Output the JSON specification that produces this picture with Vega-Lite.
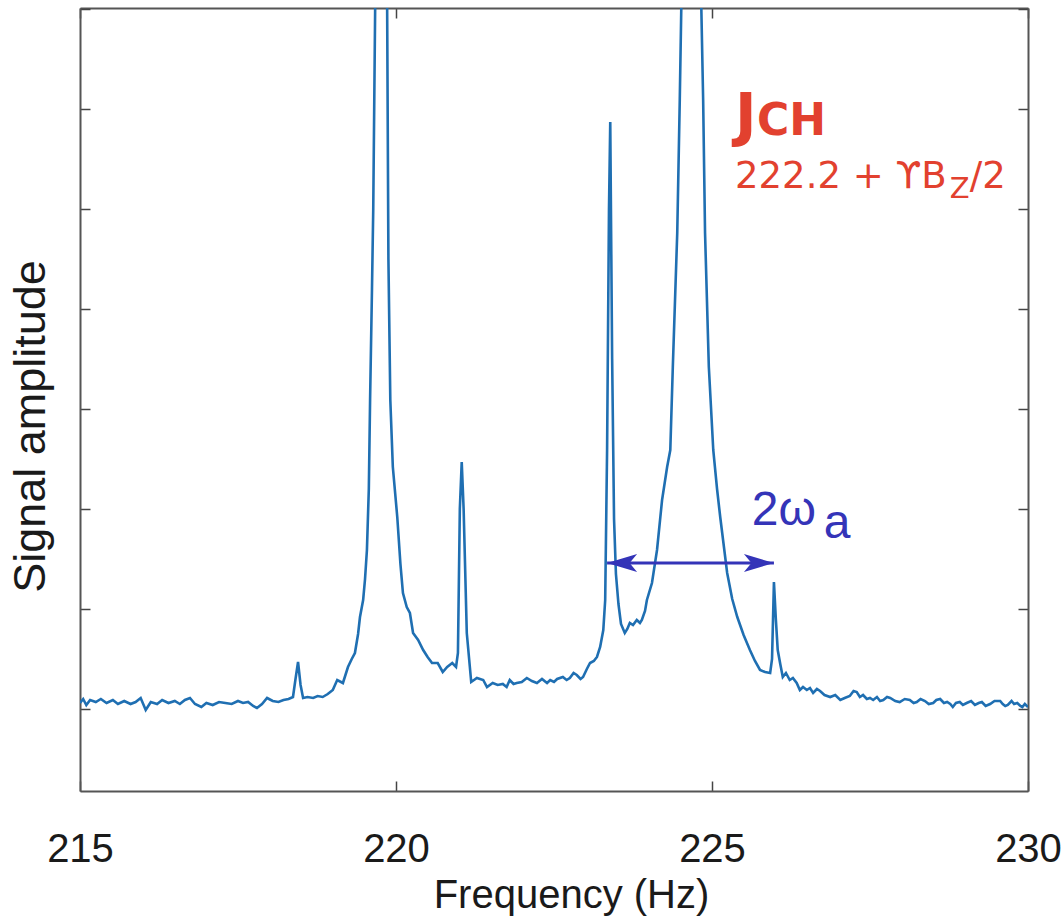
{
  "$schema": "https://vega.github.io/schema/vega-lite/v6.json",
  "width": 948,
  "height": 783,
  "autosize": {"type": "none"},
  "padding": {"left": 80, "top": 8, "right": 33, "bottom": 129},
  "background": "white",
  "view": {"stroke": null},
  "config": {"font": "Liberation Sans"},
  "datasets": {
    "spectrum": [
      {"f":215.00,"a":0.06},{"f":215.05,"a":0.10},{"f":215.10,"a":0.04},{"f":215.16,"a":0.09},{"f":215.25,"a":0.07},{"f":215.33,"a":0.10},{"f":215.42,"a":0.06},{"f":215.52,"a":0.09},{"f":215.60,"a":0.05},{"f":215.70,"a":0.08},{"f":215.80,"a":0.05},{"f":215.88,"a":0.07},{"f":215.96,"a":0.11},{"f":216.04,"a":-0.01},{"f":216.12,"a":0.07},{"f":216.22,"a":0.05},{"f":216.30,"a":0.09},{"f":216.40,"a":0.06},{"f":216.50,"a":0.08},{"f":216.58,"a":0.05},{"f":216.66,"a":0.09},{"f":216.74,"a":0.11},{"f":216.82,"a":0.05},{"f":216.92,"a":0.02},{"f":217.00,"a":0.06},{"f":217.10,"a":0.04},{"f":217.20,"a":0.07},{"f":217.30,"a":0.06},{"f":217.40,"a":0.05},{"f":217.50,"a":0.08},{"f":217.58,"a":0.06},{"f":217.66,"a":0.07},{"f":217.74,"a":0.03},{"f":217.80,"a":0.01},{"f":217.88,"a":0.05},{"f":217.96,"a":0.11},{"f":218.05,"a":0.08},{"f":218.14,"a":0.07},{"f":218.22,"a":0.09},{"f":218.30,"a":0.10},{"f":218.37,"a":0.12},{"f":218.41,"a":0.30},{"f":218.45,"a":0.47},{"f":218.49,"a":0.24},{"f":218.53,"a":0.11},{"f":218.60,"a":0.12},{"f":218.69,"a":0.11},{"f":218.76,"a":0.13},{"f":218.84,"a":0.12},{"f":218.92,"a":0.15},{"f":219.00,"a":0.19},{"f":219.07,"a":0.29},{"f":219.16,"a":0.26},{"f":219.24,"a":0.42},{"f":219.30,"a":0.50},{"f":219.35,"a":0.56},{"f":219.40,"a":0.75},{"f":219.43,"a":0.92},{"f":219.48,"a":1.09},{"f":219.51,"a":1.30},{"f":219.54,"a":1.59},{"f":219.57,"a":2.2},{"f":219.59,"a":3.09},{"f":219.62,"a":4.2},{"f":219.64,"a":5.0},{"f":219.67,"a":7.0},{"f":219.70,"a":9.5},{"f":219.76,"a":12.0},{"f":219.82,"a":9.5},{"f":219.86,"a":7.0},{"f":219.88,"a":4.5},{"f":219.91,"a":3.09},{"f":219.95,"a":2.42},{"f":220.02,"a":1.92},{"f":220.07,"a":1.45},{"f":220.11,"a":1.16},{"f":220.17,"a":1.02},{"f":220.22,"a":0.96},{"f":220.27,"a":0.76},{"f":220.35,"a":0.69},{"f":220.43,"a":0.59},{"f":220.50,"a":0.52},{"f":220.57,"a":0.46},{"f":220.66,"a":0.46},{"f":220.74,"a":0.37},{"f":220.81,"a":0.42},{"f":220.89,"a":0.46},{"f":220.95,"a":0.42},{"f":220.98,"a":0.56},{"f":221.01,"a":2.0},{"f":221.04,"a":2.47},{"f":221.07,"a":2.0},{"f":221.12,"a":0.76},{"f":221.19,"a":0.27},{"f":221.28,"a":0.31},{"f":221.38,"a":0.29},{"f":221.44,"a":0.22},{"f":221.53,"a":0.26},{"f":221.61,"a":0.24},{"f":221.69,"a":0.25},{"f":221.75,"a":0.22},{"f":221.80,"a":0.29},{"f":221.86,"a":0.25},{"f":221.91,"a":0.26},{"f":221.99,"a":0.27},{"f":222.07,"a":0.31},{"f":222.15,"a":0.28},{"f":222.23,"a":0.26},{"f":222.31,"a":0.30},{"f":222.39,"a":0.26},{"f":222.44,"a":0.29},{"f":222.50,"a":0.27},{"f":222.55,"a":0.30},{"f":222.64,"a":0.32},{"f":222.70,"a":0.29},{"f":222.75,"a":0.31},{"f":222.81,"a":0.36},{"f":222.86,"a":0.34},{"f":222.92,"a":0.30},{"f":222.96,"a":0.32},{"f":223.02,"a":0.40},{"f":223.07,"a":0.46},{"f":223.13,"a":0.48},{"f":223.18,"a":0.52},{"f":223.23,"a":0.62},{"f":223.28,"a":0.79},{"f":223.31,"a":1.09},{"f":223.34,"a":2.59},{"f":223.37,"a":5.0},{"f":223.39,"a":5.87},{"f":223.42,"a":3.5},{"f":223.45,"a":1.9},{"f":223.48,"a":1.35},{"f":223.52,"a":1.05},{"f":223.56,"a":0.85},{"f":223.62,"a":0.76},{"f":223.66,"a":0.80},{"f":223.70,"a":0.86},{"f":223.75,"a":0.84},{"f":223.81,"a":0.89},{"f":223.86,"a":0.86},{"f":223.89,"a":0.89},{"f":223.94,"a":0.98},{"f":223.97,"a":1.09},{"f":224.05,"a":1.26},{"f":224.13,"a":1.59},{"f":224.21,"a":2.09},{"f":224.29,"a":2.42},{"f":224.34,"a":2.59},{"f":224.38,"a":3.42},{"f":224.45,"a":4.76},{"f":224.49,"a":6.09},{"f":224.54,"a":8.0},{"f":224.60,"a":10.5},{"f":224.67,"a":12.0},{"f":224.74,"a":10.5},{"f":224.80,"a":8.0},{"f":224.86,"a":6.09},{"f":224.89,"a":4.76},{"f":224.95,"a":3.42},{"f":225.02,"a":2.59},{"f":225.08,"a":2.2},{"f":225.13,"a":1.92},{"f":225.24,"a":1.36},{"f":225.32,"a":1.1},{"f":225.40,"a":0.92},{"f":225.50,"a":0.74},{"f":225.60,"a":0.59},{"f":225.68,"a":0.48},{"f":225.76,"a":0.39},{"f":225.84,"a":0.37},{"f":225.92,"a":0.36},{"f":225.95,"a":0.50},{"f":225.98,"a":1.27},{"f":226.01,"a":0.90},{"f":226.04,"a":0.59},{"f":226.08,"a":0.45},{"f":226.12,"a":0.32},{"f":226.17,"a":0.36},{"f":226.23,"a":0.29},{"f":226.28,"a":0.31},{"f":226.34,"a":0.26},{"f":226.39,"a":0.19},{"f":226.44,"a":0.22},{"f":226.50,"a":0.19},{"f":226.55,"a":0.21},{"f":226.60,"a":0.16},{"f":226.66,"a":0.20},{"f":226.71,"a":0.18},{"f":226.78,"a":0.14},{"f":226.87,"a":0.12},{"f":226.95,"a":0.14},{"f":227.03,"a":0.09},{"f":227.10,"a":0.11},{"f":227.18,"a":0.13},{"f":227.24,"a":0.18},{"f":227.29,"a":0.17},{"f":227.34,"a":0.12},{"f":227.39,"a":0.14},{"f":227.45,"a":0.10},{"f":227.50,"a":0.11},{"f":227.55,"a":0.09},{"f":227.61,"a":0.12},{"f":227.66,"a":0.08},{"f":227.71,"a":0.09},{"f":227.77,"a":0.12},{"f":227.82,"a":0.11},{"f":227.90,"a":0.08},{"f":227.97,"a":0.07},{"f":228.05,"a":0.10},{"f":228.13,"a":0.09},{"f":228.19,"a":0.06},{"f":228.24,"a":0.07},{"f":228.30,"a":0.10},{"f":228.37,"a":0.08},{"f":228.43,"a":0.05},{"f":228.50,"a":0.06},{"f":228.55,"a":0.09},{"f":228.61,"a":0.10},{"f":228.67,"a":0.06},{"f":228.72,"a":0.07},{"f":228.77,"a":0.05},{"f":228.81,"a":0.02},{"f":228.86,"a":0.06},{"f":228.92,"a":0.07},{"f":228.97,"a":0.04},{"f":229.03,"a":0.06},{"f":229.10,"a":0.08},{"f":229.16,"a":0.04},{"f":229.22,"a":0.06},{"f":229.27,"a":0.07},{"f":229.33,"a":0.03},{"f":229.40,"a":0.05},{"f":229.47,"a":0.08},{"f":229.56,"a":0.08},{"f":229.60,"a":0.05},{"f":229.64,"a":0.03},{"f":229.68,"a":0.04},{"f":229.74,"a":0.08},{"f":229.78,"a":0.05},{"f":229.83,"a":0.06},{"f":229.88,"a":0.03},{"f":229.91,"a":0.02},{"f":229.95,"a":0.05},{"f":230.00,"a":0.02}
    ]
  },
  "layer": [
    {
      "data": {"name": "spectrum"},
      "mark": {"type": "line", "color": "#1f6fb2", "strokeWidth": 2.6, "clip": true},
      "encoding": {
        "x": {
          "field": "f", "type": "quantitative",
          "scale": {"domain": [215, 230], "nice": false, "zero": false},
          "axis": {
            "orient": "bottom", "values": [215, 220, 225, 230], "format": "d",
            "grid": false, "labelFlush": false, "labelFontSize": 40, "labelColor": "#1a1a1a",
            "labelPadding": 48, "tickSize": -10, "tickColor": "#444444", "tickWidth": 1.5,
            "domainColor": "#555555", "domainWidth": 2,
            "title": "Frequency (Hz)", "titleFontSize": 40, "titleFontWeight": "normal",
            "titleColor": "#1a1a1a", "titlePadding": 6, "titleX": 491
          }
        },
        "y": {
          "field": "a", "type": "quantitative",
          "scale": {"domain": [-0.82, 7.01], "nice": false, "zero": false},
          "axis": {
            "orient": "left", "values": [0, 1, 2, 3, 4, 5, 6, 7], "labels": false,
            "grid": false, "tickSize": -10, "tickColor": "#444444", "tickWidth": 1.5,
            "domainColor": "#555555", "domainWidth": 2,
            "title": "Signal amplitude", "titleFontSize": 45, "titleFontWeight": "normal",
            "titleColor": "#1a1a1a", "titlePadding": 26, "titleY": 418
          }
        }
      }
    },
    {
      "data": {"values": [{}]},
      "mark": {"type": "rule", "color": "#3434b8", "strokeWidth": 3},
      "encoding": {
        "x": {"datum": 223.34, "type": "quantitative",
          "axis": {"orient": "top", "values": [215, 220, 225, 230], "labels": false, "title": null,
            "grid": false, "tickSize": -10, "tickColor": "#444444", "tickWidth": 1.5,
            "domainColor": "#555555", "domainWidth": 2}},
        "x2": {"datum": 225.98},
        "y": {"datum": 1.46, "type": "quantitative",
          "axis": {"orient": "right", "values": [0, 1, 2, 3, 4, 5, 6, 7], "labels": false, "title": null,
            "grid": false, "tickSize": -10, "tickColor": "#444444", "tickWidth": 1.5,
            "domainColor": "#555555", "domainWidth": 2}}
      }
    },
    {
      "data": {"values": [{}]},
      "mark": {"type": "point", "shape": "M 0 0 L 1 -0.3 L 0.75 0 L 1 0.3 Z", "filled": true, "opacity": 1, "color": "#3434b8", "size": 3600},
      "encoding": {
        "x": {"datum": 223.34, "type": "quantitative", "axis": null},
        "y": {"datum": 1.46, "type": "quantitative", "axis": null}
      }
    },
    {
      "data": {"values": [{}]},
      "mark": {"type": "point", "shape": "M 0 0 L -1 -0.3 L -0.75 0 L -1 0.3 Z", "filled": true, "opacity": 1, "color": "#3434b8", "size": 3600},
      "encoding": {
        "x": {"datum": 225.98, "type": "quantitative", "axis": null},
        "y": {"datum": 1.46, "type": "quantitative", "axis": null}
      }
    },
    {
      "data": {"values": [{}]},
      "mark": {"type": "text", "text": "2ω", "align": "left", "baseline": "alphabetic", "fontSize": 48, "font": "Liberation Sans", "color": "#3434b8"},
      "encoding": {
        "x": {"datum": 225.63, "type": "quantitative", "axis": null},
        "y": {"datum": 1.84, "type": "quantitative", "axis": null}
      }
    },
    {
      "data": {"values": [{}]},
      "mark": {"type": "text", "text": "a", "align": "left", "baseline": "alphabetic", "fontSize": 48, "font": "Liberation Sans", "color": "#3434b8"},
      "encoding": {
        "x": {"datum": 226.77, "type": "quantitative", "axis": null},
        "y": {"datum": 1.71, "type": "quantitative", "axis": null}
      }
    },
    {
      "data": {"values": [{}]},
      "mark": {"type": "text", "text": "J", "align": "left", "baseline": "alphabetic", "fontSize": 58, "font": "DejaVu Sans", "fontWeight": "bold", "color": "#e2412f"},
      "encoding": {
        "x": {"datum": 225.364, "type": "quantitative", "axis": null},
        "y": {"datum": 5.74, "type": "quantitative", "axis": null}
      }
    },
    {
      "data": {"values": [{}]},
      "mark": {"type": "text", "text": "CH", "align": "left", "baseline": "alphabetic", "fontSize": 44, "font": "DejaVu Sans", "fontWeight": "bold", "color": "#e2412f"},
      "encoding": {
        "x": {"datum": 225.712, "type": "quantitative", "axis": null},
        "y": {"datum": 5.74, "type": "quantitative", "axis": null}
      }
    },
    {
      "data": {"values": [{}]},
      "mark": {"type": "text", "text": "222.2 + ϒB", "align": "left", "baseline": "alphabetic", "fontSize": 37, "font": "DejaVu Sans", "color": "#e2412f"},
      "encoding": {
        "x": {"datum": 225.364, "type": "quantitative", "axis": null},
        "y": {"datum": 5.21, "type": "quantitative", "axis": null}
      }
    },
    {
      "data": {"values": [{}]},
      "mark": {"type": "text", "text": "Z", "align": "left", "baseline": "alphabetic", "fontSize": 29, "font": "DejaVu Sans", "color": "#e2412f"},
      "encoding": {
        "x": {"datum": 228.76, "type": "quantitative", "axis": null},
        "y": {"datum": 5.11, "type": "quantitative", "axis": null}
      }
    },
    {
      "data": {"values": [{}]},
      "mark": {"type": "text", "text": "/2", "align": "left", "baseline": "alphabetic", "fontSize": 37, "font": "DejaVu Sans", "color": "#e2412f"},
      "encoding": {
        "x": {"datum": 229.08, "type": "quantitative", "axis": null},
        "y": {"datum": 5.21, "type": "quantitative", "axis": null}
      }
    }
  ],
  "resolve": {"axis": {"x": "independent", "y": "independent"}}
}
